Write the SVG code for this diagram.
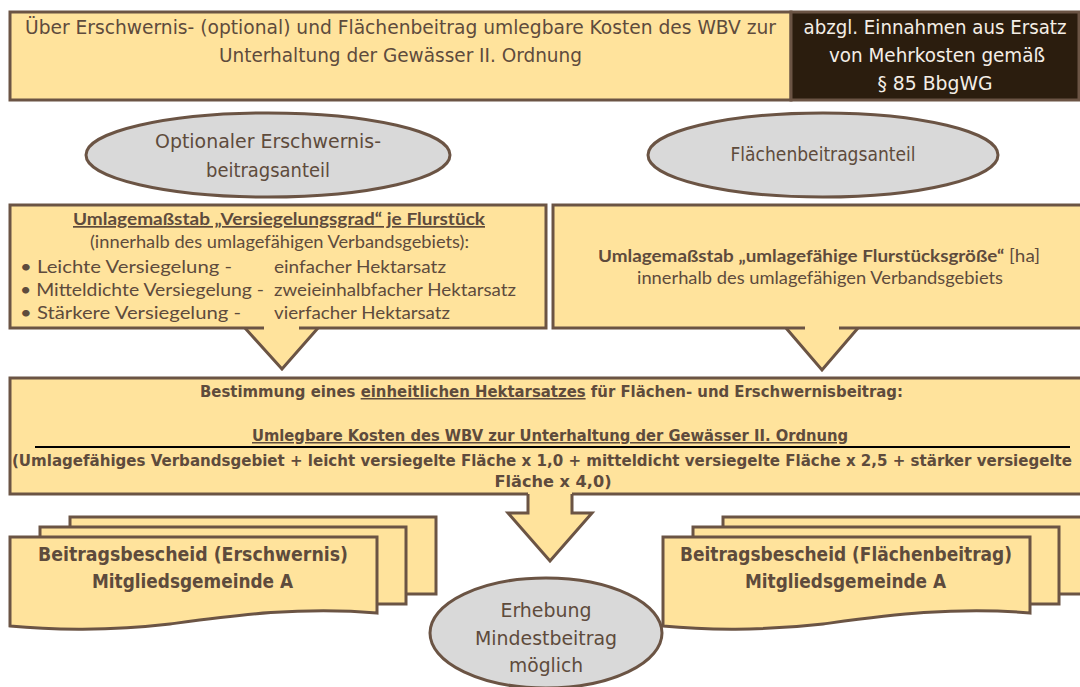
<svg xmlns="http://www.w3.org/2000/svg" width="1080" height="687" viewBox="0 0 1080 687">
<style>
.box{fill:#FFE39C;stroke:#6B5444;stroke-width:3}
.fill{fill:#FFE39C;stroke:none}
.ln{fill:none;stroke:#6B5444;stroke-width:3;stroke-linejoin:miter}
.ell{fill:#D9D9D9;stroke:#6B5444;stroke-width:3}
.dark{fill:#2B1D0E;stroke:#6B5444;stroke-width:3}
.t{font-family:"DejaVu Sans Condensed","DejaVu Sans",sans-serif;font-stretch:condensed;fill:#5E4B3C;font-size:19px}
.tw{font-family:"DejaVu Sans Condensed","DejaVu Sans",sans-serif;font-stretch:condensed;fill:#F4EEE6;font-size:19px}
.c{font-family:Lato,"Open Sans",sans-serif;fill:#5E4B3C;font-size:17px}
.m{font-family:"DejaVu Sans Condensed","DejaVu Sans",sans-serif;font-stretch:condensed;fill:#5E4B3C;font-size:15px;font-weight:bold}
.b{font-weight:bold}
.u{text-decoration:underline}
.mid{text-anchor:middle}
</style>

<g id="top-box">
  <rect class="box" x="10" y="12" width="781" height="88"/>
  <text class="t mid" x="400.5" y="34" textLength="751" lengthAdjust="spacingAndGlyphs">Über Erschwernis- (optional) und Flächenbeitrag umlegbare Kosten des WBV zur</text>
  <text class="t mid" x="400.5" y="62" textLength="363" lengthAdjust="spacingAndGlyphs">Unterhaltung der Gewässer II.  Ordnung</text>
</g>

<g id="deduction-box">
  <rect class="dark" x="791" y="12" width="288" height="88"/>
  <text class="tw mid" x="935" y="34" textLength="263" lengthAdjust="spacingAndGlyphs">abzgl. Einnahmen aus Ersatz</text>
  <text class="tw mid" x="937" y="62" textLength="216" lengthAdjust="spacingAndGlyphs">von Mehrkosten gemäß</text>
  <text class="tw mid" x="935" y="90" textLength="115" lengthAdjust="spacingAndGlyphs">§ 85 BbgWG</text>
</g>

<g id="ellipse-erschwernis">
  <ellipse class="ell" cx="268" cy="155" rx="182" ry="42"/>
  <text class="t mid" x="268" y="148" textLength="226" lengthAdjust="spacingAndGlyphs">Optionaler Erschwernis-</text>
  <text class="t mid" x="268" y="177" textLength="124" lengthAdjust="spacingAndGlyphs">beitragsanteil</text>
</g>

<g id="ellipse-flaeche">
  <ellipse class="ell" cx="823" cy="155" rx="175" ry="42"/>
  <text class="t mid" x="823" y="161" textLength="185" lengthAdjust="spacingAndGlyphs">Flächenbeitragsanteil</text>
</g>

<g id="box-versiegelung">
  <path class="fill" d="M10,205 H546 V328 H318 L282,369 L245,328 H10 Z"/>
  <path class="ln" d="M264,328 H10 V205 H546 V328 H299"/>
  <path class="ln" d="M245,328 L282,369 L318,328"/>
  <text class="c mid b u" x="279" y="225" textLength="412" lengthAdjust="spacingAndGlyphs">Umlagemaßstab „Versiegelungsgrad“ je Flurstück</text>
  <text class="c mid" x="279.5" y="248" textLength="379" lengthAdjust="spacingAndGlyphs">(innerhalb des umlagefähigen Verbandsgebiets):</text>
  <text class="c" x="20" y="273" textLength="212" lengthAdjust="spacingAndGlyphs">• Leichte Versiegelung -</text>
  <text class="c" x="20" y="296" textLength="244" lengthAdjust="spacingAndGlyphs">• Mitteldichte Versiegelung -</text>
  <text class="c" x="20" y="319" textLength="221" lengthAdjust="spacingAndGlyphs">• Stärkere Versiegelung -</text>
  <text class="c" x="274" y="273" textLength="172" lengthAdjust="spacingAndGlyphs">einfacher Hektarsatz</text>
  <text class="c" x="274" y="296" textLength="242" lengthAdjust="spacingAndGlyphs">zweieinhalbfacher Hektarsatz</text>
  <text class="c" x="274" y="319" textLength="176" lengthAdjust="spacingAndGlyphs">vierfacher Hektarsatz</text>
</g>

<g id="box-flaeche">
  <path class="fill" d="M553,205 H1090 V328 H858 L822,370 L786,328 H553 Z"/>
  <path class="ln" d="M805,328 H553 V205 H1090 V328 H839"/>
  <path class="ln" d="M786,328 L822,370 L858,328"/>
  <text class="c mid" x="819" y="262" textLength="442" lengthAdjust="spacingAndGlyphs"><tspan class="b">Umlagemaßstab „umlagefähige Flurstücksgröße“</tspan> [ha]</text>
  <text class="c mid" x="820" y="284" textLength="366" lengthAdjust="spacingAndGlyphs">innerhalb des umlagefähigen Verbandsgebiets</text>
</g>

<g id="box-hektarsatz">
  <rect class="box" x="10" y="378" width="1080" height="116"/>
  <text class="m mid" x="551.5" y="397" textLength="703" lengthAdjust="spacingAndGlyphs">Bestimmung eines <tspan class="u">einheitlichen Hektarsatzes</tspan> für Flächen- und Erschwernisbeitrag:</text>
  <text class="m mid u" x="550" y="441" textLength="596" lengthAdjust="spacingAndGlyphs">Umlegbare Kosten des WBV zur Unterhaltung der Gewässer II. Ordnung</text>
  <line x1="35" y1="447" x2="1070" y2="447" stroke="#000" stroke-width="2"/>
  <text class="m mid" x="542" y="466" textLength="1060" lengthAdjust="spacingAndGlyphs">(Umlagefähiges Verbandsgebiet + leicht versiegelte Fläche x 1,0 + mitteldicht versiegelte Fläche x 2,5 + stärker versiegelte</text>
  <text class="m mid" x="553" y="487" textLength="117" lengthAdjust="spacingAndGlyphs">Fläche x 4,0)</text>
</g>

<g id="connectors">
  <path class="fill" d="M528,490 V513 H508 L550,561 L592,513 H572 V490 Z"/>
  <path class="ln" d="M528,494 V513 H508 L550,561 L592,513 H572 V494"/>
</g>

<g id="bescheid-erschwernis">
  <rect class="box" x="70" y="517" width="366" height="77"/>
  <rect class="box" x="40" y="527" width="366" height="77"/>
  <path class="box" d="M10,537 H377 V613 C300,606 230,616 170,624 C110,631 50,630 10,626 Z"/>
  <text class="t mid b" x="193" y="561" textLength="310" lengthAdjust="spacingAndGlyphs">Beitragsbescheid (Erschwernis)</text>
  <text class="t mid b" x="192.5" y="588" textLength="201" lengthAdjust="spacingAndGlyphs">Mitgliedsgemeinde A</text>
</g>

<g id="bescheid-flaeche">
  <rect class="box" x="723" y="517" width="366" height="77"/>
  <rect class="box" x="693" y="527" width="366" height="77"/>
  <path class="box" d="M663,537 H1030 V613 C953,606 883,616 823,624 C763,631 703,630 663,626 Z"/>
  <text class="t mid b" x="846" y="561" textLength="332" lengthAdjust="spacingAndGlyphs">Beitragsbescheid (Flächenbeitrag)</text>
  <text class="t mid b" x="845.5" y="588" textLength="201" lengthAdjust="spacingAndGlyphs">Mitgliedsgemeinde A</text>
</g>

<g id="ellipse-mindestbeitrag">
  <ellipse class="ell" cx="546" cy="633" rx="116" ry="55"/>
  <text class="t mid" x="546" y="617" textLength="91" lengthAdjust="spacingAndGlyphs">Erhebung</text>
  <text class="t mid" x="546" y="645" textLength="142" lengthAdjust="spacingAndGlyphs">Mindestbeitrag</text>
  <text class="t mid" x="546" y="672" textLength="74" lengthAdjust="spacingAndGlyphs">möglich</text>
</g>
</svg>
